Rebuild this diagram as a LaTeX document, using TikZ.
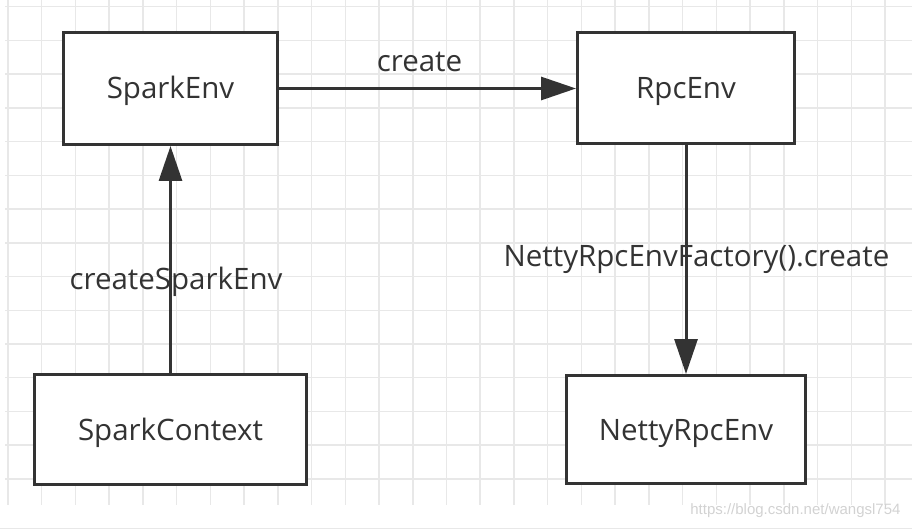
\documentclass[tikz,border=0pt]{standalone}
\usepackage{fontspec}
\setmainfont{Open Sans}
\newfontfamily\markfont{Liberation Sans}
\usetikzlibrary{arrows.meta}
\definecolor{ink}{RGB}{51,51,51}
\definecolor{gridgray}{RGB}{232,232,232}

\begin{document}
\begin{tikzpicture}[x=1pt, y=-1pt,
    box/.style={draw=ink, line width=3pt, fill=white, text=ink,
	font=\fontsize{29.5}{34}\selectfont, inner sep=0pt,
	text height=21pt, text depth=0pt},
    arr/.style={draw=ink, line width=3pt,
	-{Triangle[length=35pt, width=23pt]}},
    lbl/.style={text=ink, font=\fontsize{29.5}{34}\selectfont, inner sep=0pt,
	text height=21pt, text depth=0pt}]
    \useasboundingbox (0, 0) rectangle (912, 529);

    % grid
    \foreach \i in {0, ..., 26}
	\draw[gridgray, line width=1.5pt] (8 + 33.73*\i, 0) -- (8 + 33.73*\i, 505);
    \foreach \j in {0, ..., 14}
	\draw[gridgray, line width=1.5pt] (5, 6.7 + 33.73*\j) -- (912, 6.7 + 33.73*\j);
    \draw[gridgray, line width=1pt] (0, 528) -- (912, 528);

    \node[box, minimum width=214pt, minimum height=112pt] (env) at (170.5, 88.5) {SparkEnv};
    \node[box, minimum width=217pt, minimum height=111pt] (rpc) at (686, 88.5) {RpcEnv};
    \node[box, minimum width=272pt, minimum height=110pt] (ctx) at (170.5, 429.5) {SparkContext};
    \node[box, minimum width=239pt, minimum height=108pt] (netty) at (686, 429.5) {NettyRpcEnv};

    \draw[arr] (env.east) -- (rpc.west)
	node[lbl, midway, above=15pt, xshift=-8pt] (lcreate) {create};
    \draw[arr] (ctx.north) -- (env.south);
    \draw[arr] (rpc.south) -- (netty.north);

    \node[lbl] (lspark) at (176, 279) {createSparkEnv};
    \node[lbl] (lfactory) at (696.5, 256) {NettyRpcEnvFactory().create};

    \node[text=gray!35, font=\markfont\fontsize{15}{18}\selectfont, anchor=east]
	(mark) at (904, 511) {https://blog.csdn.net/wangsl754};
\end{tikzpicture}
\end{document}
